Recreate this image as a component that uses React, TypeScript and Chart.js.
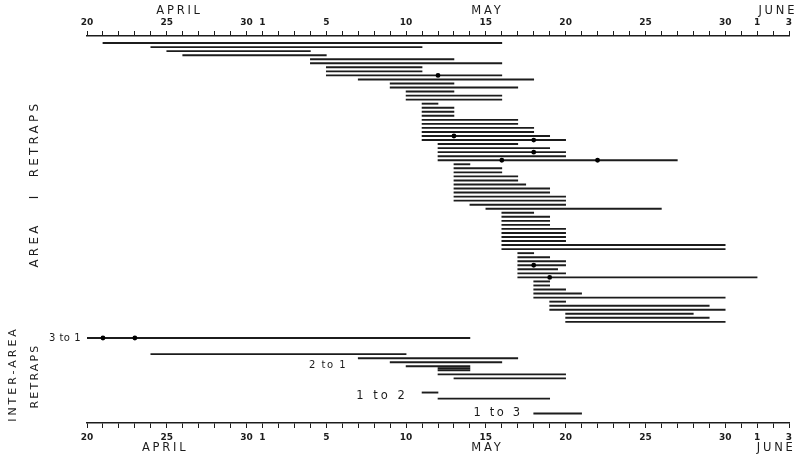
import React, { useEffect, useRef } from 'react';
import { Chart, registerables } from 'chart.js';

Chart.register(...registerables);

// Day numbering: April d = d, May d = 30 + d, June d = 61 + d
const axisMin = 20;
const axisMax = 64;
const tickValues = [20, 25, 30, 31, 35, 40, 45, 50, 55, 60, 62, 64];
const tickLabels = ['20', '25', '30', '1', '5', '10', '15', '20', '25', '30', '1', '3'];
const months = ['APRIL', 'MAY', 'JUNE'];

// Area I retraps: one line per bird (first capture -> last retrap)
const area1Start = [
  21, 24, 25, 26, 34, 34, 35, 35, 35, 37,
  39, 39, 40, 40, 40, 41, 41, 41, 41, 41,
  41, 41, 41, 41, 41, 42, 42, 42, 42, 42,
  43, 43, 43, 43, 43, 43, 43, 43, 43, 43,
  44, 45, 46, 46, 46, 46, 46, 46, 46, 46,
  46, 46, 47, 47, 47, 47, 47, 47, 47, 48,
  48, 48, 48, 48, 49, 49, 49, 50, 50, 50,
];
const area1End = [
  46, 41, 34, 35, 43, 46, 41, 41, 46, 48,
  43, 47, 43, 46, 46, 42, 43, 43, 43, 47,
  47, 48, 48, 49, 50, 47, 49, 50, 50, 57,
  44, 46, 46, 47, 47, 47.5, 49, 49, 50, 50,
  50, 56, 48, 49, 49, 49, 50, 50, 50, 50,
  60, 60, 48, 49, 50, 50, 49.5, 50, 62, 49,
  49, 50, 51, 60, 50, 59, 60, 58, 59, 60,
];

// Inter-area retraps (3 to 1, 2 to 1, 1 to 2, 1 to 3)
const interLabels = ['3 to 1', '2 to 1', '1 to 2', '1 to 3'];
const interRow = [74, 78, 79, 80, 81, 81.5, 82, 83, 84, 87.5, 89, 92.7];
const interStart = [20, 24, 37, 39, 40, 42, 42, 42, 43, 41, 42, 48];
const interEnd = [44, 40, 47, 46, 44, 44, 44, 50, 50, 42, 49, 51];

// Intermediate retrap dots
const dotRow = [9, 24, 25, 28, 30, 30, 56, 59, 74, 74];
const dotDay = [42, 43, 48, 48, 46, 52, 48, 49, 21, 23];

const INK = '#1c1c1c';

const textPlugin = {
  id: 'chartText',
  afterDraw(chart: any) {
    const ctx = chart.ctx as CanvasRenderingContext2D;
    const xs = chart.scales.x;
    const ys = chart.scales.y;
    const setFont = (size: number, spacing: number, weight = 'normal') => {
      ctx.font = `${weight} ${size}px "DejaVu Sans"`;
      (ctx as any).letterSpacing = `${spacing}px`;
    };
    const vText = (t: string, x: number, y: number) => {
      ctx.save();
      ctx.translate(x, y);
      ctx.rotate(-Math.PI / 2);
      ctx.fillText(t, 0, 0);
      ctx.restore();
    };
    ctx.save();
    ctx.fillStyle = INK;
    ctx.textBaseline = 'middle';
    ctx.textAlign = 'center';

    // month names, top and bottom
    setFont(11.5, 2.8);
    const topAt = [25.8, 45.1, 63.3];
    const botAt = [24.9, 45.1, 63.2];
    months.forEach((m, i) => {
      ctx.fillText(m, xs.getPixelForValue(topAt[i]), 11);
      ctx.fillText(m, xs.getPixelForValue(botAt[i]), 448);
    });

    // side titles
    setFont(12, 3.2);
    vText('RETRAPS', 35, 139);
    vText('I', 35, 196);
    vText('AREA', 35, 245);
    setFont(11, 3);
    vText('INTER-AREA', 13, 374);
    setFont(11, 2.2);
    vText('RETRAPS', 35, 376);

    // inter-area group labels
    setFont(10, 0.5);
    ctx.textAlign = 'right';
    ctx.fillText(interLabels[0], 81, ys.getPixelForValue(interRow[0]));
    ctx.textAlign = 'center';
    setFont(10, 1.5);
    ctx.fillText(interLabels[1], 328, 365.5);
    setFont(11.5, 3);
    ctx.fillText(interLabels[2], 382, 396);
    setFont(11.5, 2.6);
    ctx.fillText(interLabels[3], 498, 413);
    ctx.restore();
  },
};

export default function App() {
  const ref = useRef<HTMLCanvasElement>(null);

  useEffect(() => {
    const canvas = ref.current;
    if (!canvas) return;
    const allDays: number[] = [];
    for (let d = axisMin; d <= axisMax; d++) allDays.push(d);

    const spans = [
      ...area1Start.map((s, i) => ({ y: i + 1, x: [s, area1End[i]] })),
      ...interStart.map((s, i) => ({ y: interRow[i], x: [s, interEnd[i]] })),
    ];
    const dots = dotRow.map((r, i) => ({ x: dotDay[i], y: r }));

    const xAxis = (position: 'top' | 'bottom') => ({
      type: 'linear',
      position,
      min: axisMin,
      max: axisMax,
      offset: false,
      beginAtZero: false,
      afterBuildTicks: (s: any) => {
        s.ticks = allDays.map((v) => ({ value: v }));
      },
      afterFit: (s: any) => {
        s.height = 36;
      },
      ticks: {
        autoSkip: false,
        maxRotation: 0,
        minRotation: 0,
        padding: position === 'top' ? 3 : 4,
        color: INK,
        font: { family: 'DejaVu Sans', size: 9, weight: 'bold' },
        callback: (v: any) => {
          const i = tickValues.indexOf(Number(v));
          return i >= 0 ? tickLabels[i] : '';
        },
      },
      grid: { drawOnChartArea: false, drawTicks: true, tickLength: 5, color: INK, lineWidth: 1 },
      border: { display: true, color: INK, width: 1.4 },
    });

    const chart = new Chart(canvas, {
      type: 'bar',
      data: {
        datasets: [
          {
            type: 'scatter',
            data: dots,
            pointRadius: 2.4,
            pointBackgroundColor: '#000',
            pointBorderWidth: 0,
            xAxisID: 'x',
            yAxisID: 'y',
          } as any,
          {
            type: 'bar',
            data: spans as any,
            indexAxis: 'y',
            backgroundColor: INK,
            borderWidth: 0,
            barThickness: 1.25,
            xAxisID: 'x',
            yAxisID: 'y',
          } as any,
        ],
      },
      options: {
        indexAxis: 'y',
        responsive: false,
        animation: false,
        events: [],
        layout: { padding: { left: 87, right: 15, top: 0, bottom: 0 } },
        plugins: { legend: { display: false }, tooltip: { enabled: false } },
        scales: {
          x: xAxis('bottom') as any,
          x2: xAxis('top') as any,
          y: { type: 'linear', display: false, min: -0.75, max: 95.04, reverse: true, offset: false } as any,
        },
      },
      plugins: [textPlugin],
    });
    return () => chart.destroy();
  }, []);

  return (
    <div style={{ position: 'fixed', left: 0, top: 0, width: 804, height: 459, background: '#fff' }}>
      <canvas ref={ref} width={804} height={459} style={{ display: 'block' }} />
    </div>
  );
}
